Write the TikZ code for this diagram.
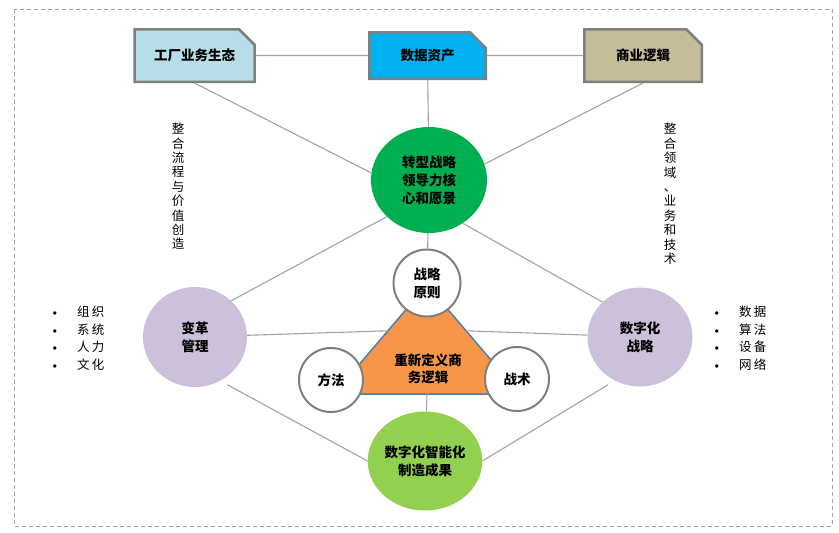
\documentclass[tikz,border=0pt]{standalone}
\usepackage{fontspec}
\usepackage{xcolor}
\usepackage{tikz}
\usetikzlibrary{calc}
\usetikzlibrary{shapes.geometric}
\usetikzlibrary{shapes.misc}
\newfontfamily\cjk{Noto Sans CJK SC}
\newfontfamily\cjkwide{Noto Sans CJK SC}[LetterSpace=18]
\definecolor{boxgray}{HTML}{7F7F7F}
\definecolor{linegray}{HTML}{A3A3A3}
\definecolor{ltblue}{HTML}{B7DEE8}
\definecolor{skyblue}{HTML}{00B0F0}
\definecolor{khaki}{HTML}{C4BD97}
\definecolor{dkgreen}{HTML}{00B050}
\definecolor{ltgreen}{HTML}{92D050}
\definecolor{lilac}{HTML}{CCC0DA}
\definecolor{triorange}{HTML}{F79646}
\definecolor{triblue}{HTML}{4A7EBB}
\tikzset{
	topbox/.style={draw=boxgray,line width=2.5pt,chamfered rectangle,chamfered rectangle corners=north east,chamfered rectangle xsep=9pt,chamfered rectangle ysep=9pt,inner sep=0pt,font=\cjk\bfseries\fontsize{13.5}{16}\selectfont},
	bigdisc/.style={ellipse,inner sep=0pt,align=center,font=\cjk\bfseries\fontsize{13.5}{18}\selectfont},
	smalldisc/.style={circle,draw=boxgray,line width=2pt,fill=white,inner sep=0pt,align=center,font=\cjk\bfseries\fontsize{13.5}{18}\selectfont},
	link/.style={draw=linegray,line width=1.1pt},
	vtext/.style={align=center,inner sep=0pt,font=\cjk\fontsize{12.5}{14.4}\selectfont},
	bullets/.style={align=left,inner sep=0pt,anchor=west,font=\cjkwide\fontsize{12.5}{17.5}\selectfont}
}
\newcommand{\bul}{\makebox[27pt][l]{\rmfamily\textbullet}}

\begin{document}
\begin{tikzpicture}[x=1pt,y=-1pt,font=\cjk]
	\useasboundingbox (0,0) rectangle (839,533);
	\draw[draw=linegray,line width=1pt,dash pattern=on 4pt off 3pt] (14,9) rectangle (832,526);

	% top row
	\node[topbox,fill=ltblue,minimum width=120pt,minimum height=52.5pt] (eco) at (194.5,55.5) {工厂业务生态};
	\node[topbox,fill=skyblue,minimum width=116.5pt,minimum height=46.5pt] (data) at (427.5,55.5) {数据资产};
	\node[topbox,fill=khaki,minimum width=117.5pt,minimum height=52.5pt] (biz) at (643,55.5) {商业逻辑};

	% hub and outer discs
	\node[bigdisc,fill=dkgreen,minimum width=116pt,minimum height=106pt] (hub) at (429,180) {转型战略\\领导力核\\心和愿景};
	\node[bigdisc,fill=lilac,minimum width=104pt,minimum height=100pt] (change) at (195,337) {变革\\管理};
	\node[bigdisc,fill=lilac,minimum width=105pt,minimum height=99pt] (digital) at (640,337) {数字化\\战略};
	\node[bigdisc,fill=ltgreen,minimum width=107pt,minimum height=99pt] (result) at (425,461) {数字化智能化\\制造成果};

	% triangle
	\coordinate (apex) at (427,285);
	\coordinate (baseL) at (334,394);
	\coordinate (baseR) at (520,394);
	\filldraw[fill=triorange,draw=triblue,line width=1.5pt,line join=miter] (apex) -- (baseL) -- (baseR) -- cycle;
	\coordinate (triL) at ($(apex)!0.42!(baseL)$);
	\coordinate (triR) at ($(apex)!0.42!(baseR)$);
	\coordinate (triB) at ($(baseL)!0.5!(baseR)$);
	\node[align=center,inner sep=0pt,font=\cjk\bfseries\fontsize{13.5}{17}\selectfont] (logic) at (428,368.5) {重新定义商\\务逻辑};

	\node[smalldisc,minimum size=67pt] (principle) at (427,283) {战略\\原则};
	\node[smalldisc,minimum size=64pt] (method) at (331,380) {方法};
	\node[smalldisc,minimum size=64pt] (tactic) at (517,379) {战术};

	% side texts
	\node[vtext] (flow) at (178,186.5) {整\\合\\流\\程\\与\\价\\值\\创\\造};
	\node[vtext] (domain) at (670,194) {整\\合\\领\\域\\、\\业\\务\\和\\技\\术};
	\node[bullets] (leftlist) at (50,338) {\bul 组织\\\bul 系统\\\bul 人力\\\bul 文化};
	\node[bullets] (rightlist) at (712,338) {\bul 数据\\\bul 算法\\\bul 设备\\\bul 网络};

	% connectors
	\draw[link] (eco) -- (data);
	\draw[link] (data) -- (biz);
	\draw[link] (eco.south) -- (hub.173);
	\draw[link] (data) -- (hub);
	\draw[link] (biz.south) -- (hub.16);
	\draw[link] (hub) -- (principle);
	\draw[link] (hub.221) -- (change.45);
	\draw[link] (hub.-52) -- (digital.137);
	\draw[link] (change) -- (triL);
	\draw[link] (digital) -- (triR);
	\draw[link] (triB) -- (result);
	\draw[link,shorten <=8pt] (change.-60) -- (result.180);
	\draw[link,shorten <=8pt] (digital.-120) -- (result.0);
\end{tikzpicture}
\end{document}
